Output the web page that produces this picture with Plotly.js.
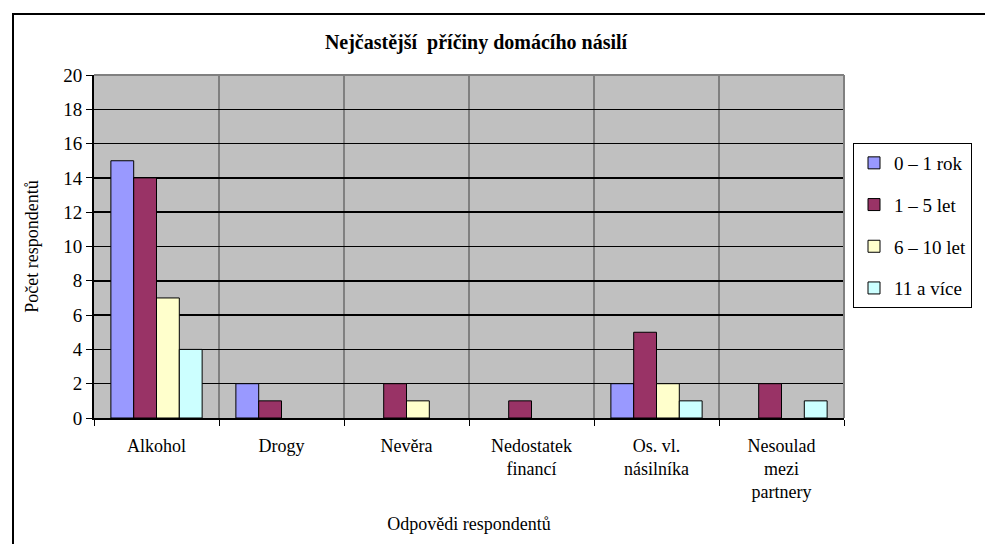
<!DOCTYPE html>
<html>
<head>
<meta charset="utf-8">
<script src="https://cdn.plot.ly/plotly-3.0.1.min.js"></script>
<style>html,body{margin:0;padding:0;background:#fff;}#chart{width:985px;height:544px;}</style>
</head>
<body>
<div id="chart"></div>
<script>
const categories = ["Alkohol", "Drogy", "Nevěra", "Nedostatek<br>financí", "Os. vl.<br>násilníka", "Nesoulad<br>mezi<br>partnery"];
const seriesNames = ["0 – 1 rok", "1 – 5 let", "6 – 10 let", "11 a více"];
const s0_1 = [15, 2, 0, 0, 2, 0];
const s1_5 = [14, 1, 2, 1, 5, 2];
const s6_10 = [7, 0, 1, 0, 2, 0];
const s11 = [4, 0, 0, 0, 1, 1];
const colors = ["#9999FF", "#993366", "#FFFFCC", "#CCFFFF"];
const yTicks = [0, 2, 4, 6, 8, 10, 12, 14, 16, 18, 20];

const values = [s0_1, s1_5, s6_10, s11];
const traces = values.map((v, i) => ({
  type: "bar",
  name: seriesNames[i],
  x: categories,
  y: v,
  legendgroup: "g" + i,
  marker: {color: colors[i], line: {color: "#000", width: v.map(d => d === 0 ? 0 : 1)}},
  hoverinfo: "x+y+name"
}));

const W = 985, H = 544;
const L = 94, R = 141, T = 75, B = 126;
const pw = W - L - R, ph = H - T - B;
const px = v => (v - L) / pw;
const py = v => (H - B - v) / ph;

const font = "Times New Roman, Liberation Serif, DejaVu Serif, serif";

const layout = {
  width: W, height: H,
  margin: {l: L, r: R, t: T, b: B, pad: 0},
  paper_bgcolor: "#fff",
  plot_bgcolor: "#C0C0C0",
  font: {family: font, size: 18, color: "#000"},
  barmode: "group",
  bargap: 0.27,
  bargroupgap: 0,
  title: {
    text: "<b>Nejčastější  příčiny domácího násilí</b>",
    font: {family: font, size: 20, color: "#000"},
    x: px(476), xref: "paper", xanchor: "center",
    y: 1 - 42 / H, yref: "container", yanchor: "middle"
  },
  xaxis: {
    type: "category",
    tickson: "boundaries",
    ticks: "outside", ticklen: 6, tickcolor: "#000", tickwidth: 1,
    showgrid: true, gridcolor: "#808080", gridwidth: 2,
    showline: true, linecolor: "#000", linewidth: 2,
    tickfont: {family: font, size: 18, color: "#000"},
    ticklabelstandoff: 10,
    title: {text: "Odpovědi respondentů", font: {family: font, size: 18, color: "#000"}, standoff: 16}
  },
  yaxis: {
    range: [0, 20],
    tickvals: yTicks,
    ticktext: yTicks.map(String),
    ticks: "outside", ticklen: 6, tickcolor: "#000", tickwidth: 1,
    showgrid: true, gridcolor: "#000", gridwidth: 1.5,
    zeroline: false,
    showline: true, linecolor: "#000", linewidth: 2,
    tickfont: {family: font, size: 19, color: "#000"},
    title: {text: "Počet respondentů", font: {family: font, size: 18, color: "#000"}, standoff: 20}
  },
  legend: {
    x: px(853), y: py(143), xanchor: "left", yanchor: "top",
    bordercolor: "#000", borderwidth: 1, bgcolor: "#fff",
    font: {family: font, size: 19, color: "#000"},
    traceorder: "grouped", tracegroupgap: 14,
    itemwidth: 30
  },
  shapes: [
    {type: "line", xref: "paper", yref: "paper", x0: 0, x1: 1, y0: 1, y1: 1, line: {color: "#808080", width: 2}, layer: "above"},
    {type: "line", xref: "paper", yref: "paper", x0: 1, x1: 1, y0: 0, y1: 1, line: {color: "#808080", width: 2}, layer: "above"},
    {type: "rect", xref: "paper", yref: "paper", x0: px(13), x1: px(1000), y0: py(14), y1: py(560), line: {color: "#000", width: 2}, fillcolor: "rgba(0,0,0,0)", layer: "above"}
  ],
  showlegend: true
};

Plotly.newPlot("chart", traces, layout, {displayModeBar: false, staticPlot: true});
</script>
</body>
</html>
